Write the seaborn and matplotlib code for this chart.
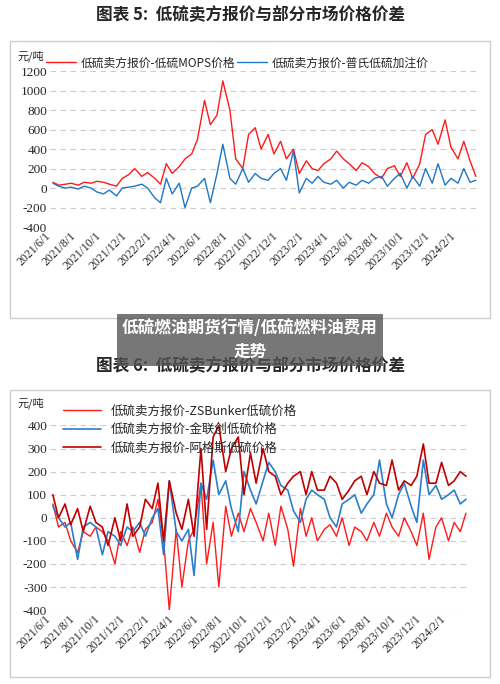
import pandas as pd
import matplotlib.pyplot as plt
import seaborn as sns

sns.set_style("white")
plt.rcParams['font.family'] = ['Noto Sans CJK SC', 'DejaVu Sans']
plt.rcParams['axes.unicode_minus'] = False

# 半月度数据 (2021/6/1 - 2024/3)
dates = pd.date_range('2021-06-01', periods=68, freq='SMS')

mops_spread = [60, 30, 40, 50, 30, 60, 50, 70, 60, 40, 20, 100, 140, 200,
               120, 160, 100, 40, 250, 150, 220, 300, 350, 500, 900, 650,
               750, 1100, 800, 300, 200, 550, 620, 400, 550, 350, 480, 300,
               400, 150, 280, 200, 180, 250, 300, 380, 300, 250, 180, 260,
               220, 150, 100, 200, 230, 120, 260, 100, 250, 550, 600, 450,
               700, 420, 300, 480, 280, 120]
platts_spread = [50, 20, 0, 10, -10, 20, 0, -40, -60, -20, -80, 0, 10, 20,
                 40, 0, -100, -150, 100, -60, 50, -200, 0, 20, 100, -150,
                 150, 450, 100, 40, 200, 60, 150, 100, 80, 150, 200, 80,
                 380, -50, 100, 50, 120, 60, 40, 80, 0, 60, 30, 80, 50, 100,
                 120, 20, 100, 150, 0, 120, 20, 200, 50, 250, 30, 100, 50,
                 200, 60, 80]

zsbunker_spread = [60, -40, -20, -100, -150, -60, -80, -40, -60, -100, -200,
                   -60, -120, -40, -150, -50, -20, 80, -100, -400, -50, -300,
                   -100, -50, 150, -200, -20, -300, 50, -80, 20, -60, 40, -20,
                   -100, 20, -120, 50, -50, -210, 40, -80, 0, -100, -50, -30,
                   -80, 0, -120, -40, -60, -100, -20, -80, 20, -40, -80, 0,
                   -60, -120, 20, -180, -40, 0, -100, -20, -60, 20]
jlc_spread = [50, 0, -40, -20, -180, -40, -20, -40, -160, -60, -80, -120,
              -40, -60, -20, -80, 0, 40, -160, 160, -60, -100, -50, -250,
              150, 80, 250, 100, 160, 40, -60, 200, 120, 60, 160, 240, 200,
              140, 120, 30, -20, 80, 120, 100, 80, 0, -40, 60, 80, 100, 20,
              60, 100, 250, 60, 0, 100, 150, 50, -20, 250, 100, 140, 80, 100,
              120, 60, 80]
argus_spread = [100, 0, 60, -30, 40, -60, 50, -20, -40, -120, 0, -100, 60,
                -80, -40, 80, 40, 150, -100, 160, 20, -50, 80, -80, 300, -50,
                350, 400, 200, 300, 350, 100, 280, 150, 300, 200, 180, 100,
                150, 180, 200, 100, 200, 120, 120, 180, 150, 80, 120, 160,
                180, 100, 200, 150, 140, 250, 120, 160, 140, 180, 320, 150,
                150, 240, 140, 160, 200, 180]

df1 = pd.DataFrame({'date': dates, 'mops': mops_spread, 'platts': platts_spread})
df2 = pd.DataFrame({'date': dates, 'zs': zsbunker_spread, 'jlc': jlc_spread,
                    'argus': argus_spread})

fig = plt.figure(figsize=(5, 6.84), dpi=100)

# 面板边框
for y0, h in [(0.535, 0.405), (0.01, 0.42)]:
    fig.patches.append(plt.Rectangle((0.02, y0), 0.96, h, transform=fig.transFigure,
                                     fill=False, ec='#cccccc', lw=1))

fig.text(0.5, 0.978, '图表 5:  低硫卖方报价与部分市场价格价差', ha='center', va='center',
         fontsize=12, fontweight='bold')
fig.text(0.5, 0.465, '图表 6:  低硫卖方报价与部分市场价格价差', ha='center', va='center',
         fontsize=12, fontweight='bold')


def style_ax(ax, ylim, step):
    ax.set_ylim(*ylim)
    ax.set_yticks(range(ylim[0], ylim[1] + 1, step))
    ax.set_xlim(pd.Timestamp('2021-05-25'), pd.Timestamp('2024-03-25'))
    ticks = pd.date_range('2021-06-01', '2024-02-01', freq='2MS')
    ax.set_xticks(ticks)
    ax.set_xticklabels([f'{d.year}/{d.month}/1' for d in ticks], rotation=45,
                       ha='right', fontsize=8.5, family=['Liberation Serif'])
    for lbl in ax.get_yticklabels():
        lbl.set_family(['Liberation Serif'])
        lbl.set_fontsize(9.5)
    ax.yaxis.grid(True, ls=(0, (5, 4)), color='#cccccc', lw=0.8)
    sns.despine(ax=ax, left=True, bottom=True)
    ax.set_xlabel('')
    ax.set_ylabel('')
    ax.tick_params(length=0, pad=2)


ax1 = fig.add_axes([0.1, 0.668, 0.86, 0.228])
sns.lineplot(data=df1, x='date', y='mops', ax=ax1, color='#ff1a1a', lw=1,
             label='低硫卖方报价-低硫MOPS价格')
sns.lineplot(data=df1, x='date', y='platts', ax=ax1, color='#1f77c4', lw=1,
             label='低硫卖方报价-普氏低硫加注价')
style_ax(ax1, (-400, 1200), 200)
ax1.legend(loc='lower left', bbox_to_anchor=(-0.02, 0.98), ncol=2, frameon=False,
           fontsize=8.5, handlelength=2.5, handletextpad=0.4, columnspacing=0.2,
           borderaxespad=0)
fig.text(0.035, 0.913, '元/吨', fontsize=8)

ax2 = fig.add_axes([0.1, 0.108, 0.84, 0.27])
sns.lineplot(data=df2, x='date', y='zs', ax=ax2, color='#ff1a1a', lw=1,
             label='低硫卖方报价-ZSBunker低硫价格')
sns.lineplot(data=df2, x='date', y='jlc', ax=ax2, color='#2a7fcc', lw=1.2,
             label='低硫卖方报价-金联创低硫价格')
sns.lineplot(data=df2, x='date', y='argus', ax=ax2, color='#c00000', lw=1.2,
             label='低硫卖方报价-阿格斯低硫价格')
style_ax(ax2, (-400, 400), 100)
ax2.legend(loc='upper left', bbox_to_anchor=(0.02, 1.14), frameon=False,
           fontsize=9, handlelength=3, labelspacing=0.45, borderaxespad=0)
fig.text(0.035, 0.405, '元/吨', fontsize=8)

# 横幅
fig.text(0.5, 0.503, '低硫燃油期货行情/低硫燃料油费用\n走势', ha='center', va='center',
         fontsize=12, fontweight='bold', color='white', linespacing=1.4,
         bbox=dict(boxstyle='square,pad=0.3', fc='#555555', ec='none', alpha=0.8))

fig.savefig('out.png', dpi=100)
